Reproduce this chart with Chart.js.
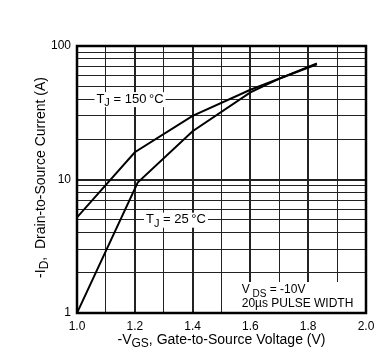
<!DOCTYPE html>
<html>
<head>
<meta charset="utf-8">
<script src="https://cdn.jsdelivr.net/npm/chart.js@4"></script>
<style>
  html, body { margin: 0; padding: 0; background: #fff; }
  #wrap { width: 388px; height: 361px; }
</style>
</head>
<body>
<div id="wrap"><canvas id="transferChart" width="388" height="361"></canvas></div>
<script>
// -VGS (V) vs -ID (A)
var vgs150 = [1.0, 1.2, 1.4, 1.6, 1.83];
var id150 = [5.2, 16, 30, 47, 73];
var vgs25 = [1.0, 1.21, 1.4, 1.6, 1.7, 1.83];
var id25 = [1.0, 9.5, 23, 45, 57, 74];
var yTicks = [1, 2, 3, 4, 5, 6, 7, 8, 9, 10, 20, 30, 40, 50, 60, 70, 80, 90, 100];
var xTicks = [1.0, 1.1, 1.2, 1.3, 1.4, 1.5, 1.6, 1.7, 1.8, 1.9, 2.0];

var FONT = "'Liberation Sans', Arial, sans-serif";

function toPoints(xs, ys) {
    var pts = [];
    for (var i = 0; i < xs.length; i++) pts.push({x: xs[i], y: ys[i]});
    return pts;
}

// draws text with a subscript part: parts = [[text, isSub], ...]
function drawSub(ctx, parts, x, y, size, align) {
    var w = 0;
    parts.forEach(function (p) {
        ctx.font = (p[1] ? size - 2 : size) + "px " + FONT;
        w += ctx.measureText(p[0]).width;
    });
    var cx = align === "center" ? x - w / 2 : x;
    parts.forEach(function (p) {
        ctx.font = (p[1] ? size - 2 : size) + "px " + FONT;
        ctx.textAlign = "left";
        ctx.textBaseline = "middle";
        ctx.fillText(p[0], cx, p[1] ? y + 4 : y);
        cx += ctx.measureText(p[0]).width;
    });
    return w;
}

function labelBox(ctx, parts, x, y, size) {
    var w = 0;
    parts.forEach(function (p) {
        ctx.font = (p[1] ? size - 2 : size) + "px " + FONT;
        w += ctx.measureText(p[0]).width;
    });
    ctx.fillStyle = "#fff";
    ctx.fillRect(x - w / 2 - 2, y - 7, w + 4, 15);
    ctx.fillStyle = "#000";
    drawSub(ctx, parts, x, y, size, "center");
}

var annotations = {
    id: "annotations",
    afterDraw: function (chart) {
        var ctx = chart.ctx;
        var xs = chart.scales.x, ys = chart.scales.y, a = chart.chartArea;
        ctx.save();

        labelBox(ctx, [["T", false], ["J", true], [" = 150\u2009\u00B0C", false]], 130, ys.getPixelForValue(40), 13);
        labelBox(ctx, [["T", false], ["J", true], [" = 25\u2009\u00B0C", false]], 176, ys.getPixelForValue(5), 13);

        // test condition box
        ctx.fillStyle = "#fff";
        ctx.fillRect(xs.getPixelForValue(1.555), a.bottom - 31, a.right - xs.getPixelForValue(1.555) - 1.5, 30);
        ctx.fillStyle = "#000";
        drawSub(ctx, [["V", false], [" DS", true], [" = -10V", false]], xs.getPixelForValue(1.57), a.bottom - 23, 12, "left");
        ctx.font = "12px " + FONT;
        ctx.textAlign = "left";
        ctx.fillText("20\u00B5s PULSE WIDTH", xs.getPixelForValue(1.57), a.bottom - 9);

        // axis titles
        drawSub(ctx, [["-V", false], ["GS", true], [", Gate-to-Source Voltage (V)", false]], (a.left + a.right) / 2, 340, 14, "center");
        ctx.translate(41, (a.top + a.bottom) / 2 - 2);
        ctx.rotate(-Math.PI / 2);
        drawSub(ctx, [["-I", false], ["D", true], [",  Drain-to-Source Current (A)", false]], 0, 0, 14, "center");

        // border
        ctx.setTransform(1, 0, 0, 1, 0, 0);
        ctx.strokeStyle = "#000";
        ctx.lineWidth = 2.5;
        ctx.strokeRect(a.left, a.top, a.right - a.left, a.bottom - a.top);
        ctx.restore();
    }
};

new Chart("transferChart", {
    type: "scatter",
    data: {
        datasets: [{
            data: toPoints(vgs150, id150),
            showLine: true,
            borderColor: "#000",
            borderWidth: 2,
            pointRadius: 0,
            tension: 0
        }, {
            data: toPoints(vgs25, id25),
            showLine: true,
            borderColor: "#000",
            borderWidth: 2,
            pointRadius: 0,
            tension: 0
        }]
    },
    options: {
        responsive: false,
        animation: false,
        layout: { padding: { left: 0, right: 22, top: 46, bottom: 0 } },
        plugins: { legend: { display: false }, tooltip: { enabled: false } },
        scales: {
            x: {
                type: "linear",
                min: 1.0,
                max: 2.0,
                afterBuildTicks: function (scale) {
                    scale.ticks = xTicks.map(function (v) { return {value: v}; });
                },
                afterFit: function (scale) { scale.height = 48; },
                border: { display: false },
                grid: {
                    drawTicks: false,
                    color: "#222",
                    lineWidth: function (c) {
                        var v = Math.round(c.tick.value * 10);
                        return (v % 2 === 0) ? 2 : 1;
                    }
                },
                ticks: {
                    padding: 6,
                    color: "#000",
                    autoSkip: false,
                    maxRotation: 0,
                    font: { family: FONT, size: 12 },
                    callback: function (v) {
                        var t = Math.round(v * 10);
                        return (t % 2 === 0) ? v.toFixed(1) : "";
                    }
                }
            },
            y: {
                type: "logarithmic",
                min: 1,
                max: 100,
                afterBuildTicks: function (scale) {
                    scale.ticks = yTicks.map(function (v) { return {value: v}; });
                },
                afterFit: function (scale) { scale.width = 77; },
                border: { display: false },
                grid: {
                    drawTicks: false,
                    color: "#222",
                    lineWidth: function (c) {
                        return c.tick.value === 10 ? 2 : 1;
                    }
                },
                ticks: {
                    padding: 6,
                    color: "#000",
                    font: { family: FONT, size: 12 },
                    autoSkip: false,
                    callback: function (v) {
                        return (v === 1 || v === 10 || v === 100) ? String(v) : "";
                    }
                }
            }
        }
    },
    plugins: [annotations]
});
</script>
</body>
</html>
